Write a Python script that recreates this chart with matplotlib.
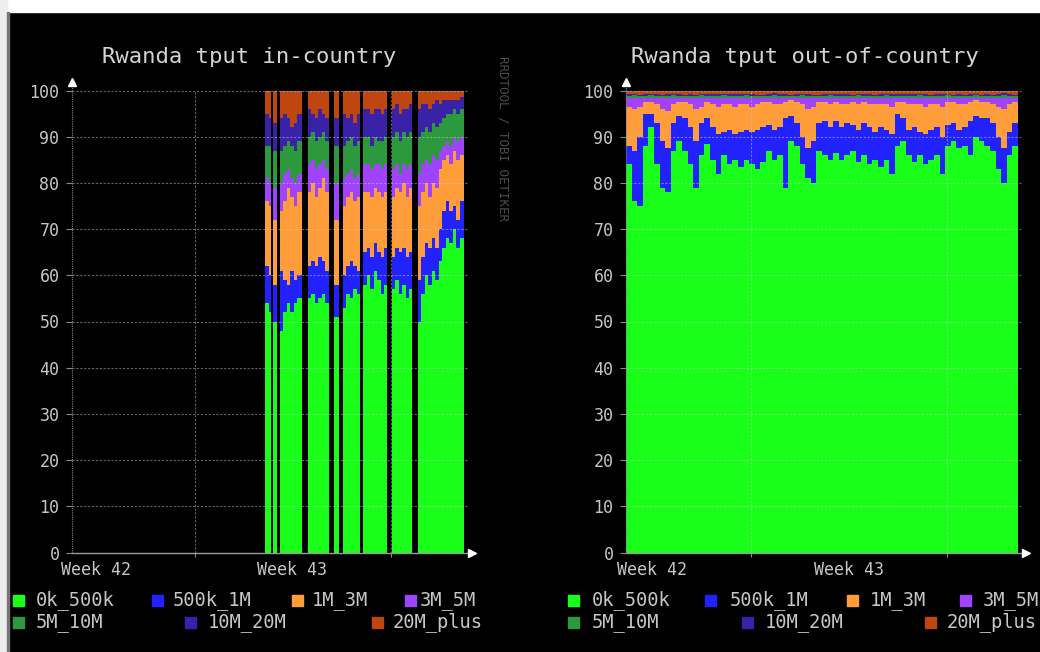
import numpy as np
import matplotlib
matplotlib.use('Agg')
import matplotlib.pyplot as plt
from matplotlib.patches import Rectangle

nan = float('nan')

# ---------------- data ----------------
series_names = ['0k_500k', '500k_1M', '1M_3M', '3M_5M', '5M_10M', '10M_20M', '20M_plus']
series_colors = ['#19ff19', '#2222ff', '#ff9d3a', '#a043ff', '#2c9a3c', '#3a22a8', '#c0460f']

week_labels = ['Week 42', 'Week 43']
y_ticks = [0, 10, 20, 30, 40, 50, 60, 70, 80, 90, 100]

# in-country: sample start times (days), NaN = no data
in_times = [6.89, 7.02, 7.12, 7.18, 7.32, 7.43, 7.55, 7.68, 7.80, 7.93, 8.05, 8.21, 8.43, 8.55,
            8.68, 8.80, 8.93, 9.05, 9.18, 9.36, 9.54, 9.68, 9.80, 9.93, 10.05, 10.17, 10.29,
            10.39, 10.52, 10.64, 10.77, 10.89, 11.02, 11.14, 11.25, 11.43, 11.55, 11.68, 11.80,
            11.93, 12.05, 12.14, 12.36, 12.48, 12.61, 12.73, 12.86, 12.98, 13.11, 13.23, 13.36,
            13.48, 13.61, 13.73, 13.86]
in_end = 14.0
in_0k_500k = [54, 52, nan, 50, nan, 48, 52, 54, 52, 54, 55, nan, 55, 56, 54, 55, 56, 54, nan, 51,
              nan, 53, 56, 55, 57, 56, nan, 58, 60, 57, 61, 59, 56, 58, nan, 57, 59, 56, 58, 55,
              57, nan, 50, 56, 60, 58, 61, 59, 63, 66, 68, 67, 70, 66, 68]
in_500k_1M = [8, 8, nan, 8, nan, 13, 7, 4, 9, 5, 5, nan, 7, 7, 8, 9, 7, 7, nan, 7,
              nan, 7, 6, 8, 5, 5, nan, 7, 6, 7, 6, 6, 8, 8, nan, 7, 7, 9, 8, 9,
              8, nan, 9, 8, 7, 8, 7, 7, 7, 8, 8, 7, 5, 6, 8]
in_1M_3M = [14, 15, nan, 14, nan, 13, 17, 21, 16, 16, 18, nan, 16, 17, 15, 15, 18, 17, nan, 14,
            nan, 15, 15, 15, 14, 16, nan, 13, 12, 13, 12, 13, 13, 12, nan, 13, 13, 13, 14, 13,
            14, nan, 16, 14, 13, 11, 12, 13, 13, 11, 10, 10, 12, 13, 10]
in_3M_5M = [5, 5, nan, 7, nan, 6, 6, 4, 4, 5, 4, nan, 6, 5, 6, 5, 4, 5, nan, 8,
            nan, 6, 5, 5, 5, 5, nan, 6, 6, 6, 5, 6, 6, 6, nan, 6, 5, 4, 4, 6,
            5, nan, 7, 6, 5, 7, 6, 6, 4, 3, 3, 4, 3, 4, 4]
in_5M_10M = [7, 8, nan, 8, nan, 7, 6, 6, 7, 7, 7, nan, 6, 6, 6, 6, 6, 6, nan, 8,
             nan, 7, 7, 7, 7, 7, nan, 6, 6, 5, 6, 5, 6, 6, nan, 7, 7, 7, 7, 7,
             7, nan, 8, 7, 7, 7, 7, 7, 6, 6, 6, 7, 6, 6, 6]
in_10M_20M = [7, 6, nan, 6, nan, 7, 7, 5, 4, 6, 6, nan, 6, 4, 5, 6, 4, 5, nan, 6,
              nan, 7, 5, 5, 5, 6, nan, 6, 6, 7, 6, 7, 6, 6, nan, 6, 6, 6, 5, 6,
              6, nan, 6, 6, 5, 5, 4, 6, 4, 4, 3, 3, 2, 3, 2.5]
in_20M_plus = [5, 6, nan, 7, nan, 6, 5, 6, 8, 7, 5, nan, 4, 5, 6, 4, 5, 6, nan, 6,
               nan, 5, 6, 5, 7, 5, nan, 4, 4, 5, 4, 4, 5, 4, nan, 4, 3, 5, 4, 4,
               3, nan, 4, 3, 3, 4, 3, 2, 3, 2, 2, 2, 2, 2, 1.5]

# out-of-country: one sample every 0.2 day over 14 days
out_step = 0.2
out_0k_500k = [84, 76, 75, 88, 92, 84, 79, 78, 87, 89, 87, 84, 79, 86, 88.5, 85, 82, 86, 84, 85,
               83.5, 85, 84, 83, 84.5, 87, 85, 86, 79, 89, 88, 84, 81, 80, 87, 86, 85, 86.5, 85, 86,
               87, 84.5, 86, 84, 85, 83.5, 85, 82, 88, 89, 86, 84.5, 86, 84, 85, 86, 82, 88, 89, 87.5,
               88, 86, 90, 89, 88, 87, 83, 80, 86, 88]
out_500k_1M = [4, 11, 15, 7, 3, 9, 10, 9.5, 6, 5.5, 7, 8, 10, 7, 5.5, 7, 8.5, 5, 7.5, 5.5,
               7.5, 6.5, 7, 8.5, 7.5, 5.5, 6.5, 6, 15, 5.5, 5, 6, 6.5, 9, 6, 7.5, 7, 7, 7, 7,
               5.5, 7, 7, 8, 6, 8.5, 6.5, 8.5, 7, 5, 5.5, 7.5, 5, 6.5, 6.5, 6, 8, 4.5, 4, 4,
               4, 7.5, 4.5, 5, 6, 6, 7, 7.5, 5, 5]
out_1M_3M = [8.5, 9, 6.5, 2.5, 2.5, 4, 7, 8, 4, 3, 3.5, 5, 7, 3.5, 3.5, 5, 6, 6, 5.5, 6,
             6, 5.5, 5.5, 5.5, 5.5, 5, 5.5, 5, 3.5, 3.5, 4.5, 7, 8.5, 7.5, 4.5, 4, 5, 4, 5, 4,
             5, 5.5, 4.5, 5, 6, 5, 5.5, 6, 2.5, 3.5, 5.5, 5, 6, 6, 5.5, 5, 6.5, 5, 4.5, 5.5,
             5, 4, 3.5, 3.5, 3.5, 4, 6.5, 8.5, 6, 4.5]
out_3M_5M = [1.8, 2.3, 1.8, 0.8, 0.8, 1.3, 2.3, 2.8, 1.3, 0.8, 0.8, 1.3, 2.3, 1.8, 0.8, 1.3, 1.8, 1.3, 1.3, 1.8,
             1.3, 1.3, 1.8, 1.3, 0.8, 0.8, 1.3, 1.3, 0.8, 0.3, 0.8, 1.3, 2.3, 1.8, 0.8, 0.8, 1.3, 0.8, 1.3, 1.3,
             0.8, 1.3, 0.8, 1.3, 1.3, 1.3, 1.3, 1.8, 0.8, 0.8, 1.3, 1.3, 1.3, 1.8, 1.3, 1.3, 1.8, 0.8, 0.8, 1.3,
             1.3, 0.8, 0.3, 0.8, 0.8, 1.3, 1.8, 2.3, 1.3, 0.8]
out_5M_10M = [0.6, 0.7, 0.5, 0.6, 0.7, 0.6, 0.5, 0.6, 0.7, 0.6, 0.5, 0.6, 0.6, 0.7, 0.6, 0.5, 0.6, 0.7, 0.6, 0.6,
              0.5, 0.7, 0.6, 0.6, 0.5, 0.6, 0.7, 0.6, 0.6, 0.5, 0.6, 0.7, 0.6, 0.5, 0.6, 0.6, 0.7, 0.6, 0.5, 0.6,
              0.6, 0.7, 0.6, 0.6, 0.5, 0.6, 0.7, 0.6, 0.6, 0.5, 0.6, 0.6, 0.7, 0.6, 0.5, 0.6, 0.6, 0.7, 0.6, 0.6,
              0.5, 0.6, 0.7, 0.6, 0.6, 0.5, 0.6, 0.7, 0.6, 0.6]
out_10M_20M = [0.3, 0.2, 0.3, 0.4, 0.3, 0.3, 0.2, 0.3, 0.3, 0.4, 0.3, 0.3, 0.2, 0.3, 0.3, 0.4, 0.3, 0.2, 0.3, 0.3,
               0.4, 0.3, 0.3, 0.2, 0.3, 0.3, 0.4, 0.3, 0.3, 0.2, 0.3, 0.3, 0.4, 0.3, 0.2, 0.3, 0.3, 0.3, 0.4, 0.3,
               0.2, 0.3, 0.3, 0.4, 0.3, 0.3, 0.2, 0.3, 0.3, 0.4, 0.3, 0.3, 0.2, 0.3, 0.3, 0.4, 0.3, 0.3, 0.2, 0.3,
               0.3, 0.4, 0.3, 0.2, 0.3, 0.3, 0.3, 0.4, 0.3, 0.2]
out_20M_plus = [0.8, 0.8, 0.9, 0.7, 0.8, 0.8, 0.9, 0.8, 0.7, 0.8, 0.9, 0.8, 0.8, 0.7, 0.8, 0.8, 0.9, 0.8, 0.8, 0.7,
                0.8, 0.9, 0.8, 0.8, 0.7, 0.8, 0.8, 0.9, 0.8, 0.8, 0.7, 0.8, 0.9, 0.8, 0.8, 0.8, 0.7, 0.8, 0.9, 0.8,
                0.8, 0.7, 0.8, 0.8, 0.9, 0.8, 0.8, 0.7, 0.8, 0.8, 0.9, 0.8, 0.8, 0.7, 0.8, 0.8, 0.9, 0.8, 0.8, 0.7,
                0.8, 0.8, 0.9, 0.8, 0.8, 0.7, 0.8, 0.8, 0.9, 0.8]

# ---------------- figure ----------------
W, H = 1040, 652
plt.rcParams['font.family'] = ['DejaVu Sans Mono']
fig = plt.figure(figsize=(W / 100, H / 100), dpi=100, facecolor='black')

TXT = '#c6c6c6'


def px_rect(x, y, w, h, **kw):
    fig.add_artist(Rectangle((x / W, 1 - (y + h) / H), w / W, h / H,
                             transform=fig.transFigure, **kw))


# white frame bits of the screenshot
px_rect(0, 0, W, 12, color='white', zorder=20)
px_rect(0, 0, 7, H, color='#eeeeee', zorder=20)
px_rect(7, 12, 1.5, H - 12, color='#777777', zorder=20)


def draw_stack(ax, t, t_end, layers):
    L = np.array(layers, dtype=float)
    tt = np.append(np.array(t, dtype=float), t_end)
    tops = np.cumsum(L, axis=0)
    valid = ~np.isnan(L).any(axis=0)
    n = L.shape[1]
    i = 0
    while i < n:
        if not valid[i]:
            i += 1
            continue
        j = i
        while j + 1 < n and valid[j + 1]:
            j += 1
        xs = tt[i:j + 2]
        for k in range(L.shape[0] - 1, -1, -1):
            ys = np.append(tops[k, i:j + 1], tops[k, j])
            ax.fill_between(xs, 0, ys, step='post', color=series_colors[k],
                            lw=0, zorder=2)
        i = j + 1


def setup(ax, grid_x, label_x):
    ax.set_facecolor('black')
    ax.set_xlim(0, 14)
    ax.set_ylim(0, 100)
    for s in ax.spines.values():
        s.set_visible(False)
    ax.set_yticks(y_ticks)
    ax.set_yticklabels([str(v) for v in y_ticks])
    ax.tick_params(axis='y', colors='#8a8a8a', labelcolor=TXT, labelsize=12,
                   length=4, width=0.8, pad=5)
    ax.set_xticks(grid_x)
    ax.set_xticklabels([])
    ax.tick_params(axis='x', colors='#8a8a8a', length=3, width=0.8)
    for yv in y_ticks[1:]:
        ax.plot([0, 14.15], [yv, yv], color='#c8c8c8', lw=0.8, ls=(0, (2, 1.5)),
                alpha=0.5, zorder=3, clip_on=False)
    for xv in grid_x:
        ax.plot([xv, xv], [0, 100], color='#c8c8c8', lw=0.8, ls=(0, (2, 1.5)),
                alpha=0.5, zorder=3, clip_on=False)
    ax.plot([0, 14.2], [0, 0], color='#9a9a9a', lw=1.0, zorder=4, clip_on=False)
    ax.plot([0, 0], [0, 101.5], color='#808080', lw=0.8, ls=(0, (1, 1)), zorder=4,
            clip_on=False)
    ax.plot([0], [101.9], marker='^', color='white', ms=6, zorder=5, clip_on=False)
    ax.plot([14.27], [0], marker='>', color='white', ms=6, zorder=5, clip_on=False)
    for lx, lab in zip(label_x, week_labels):
        ax.text(lx, -0.038, lab, transform=ax.get_xaxis_transform(), ha='center',
                va='center', fontsize=12, color=TXT)


ax_bottom = (H - 552.5) / H
ax_height = 462 / H
axL = fig.add_axes([72 / W, ax_bottom, 392 / W, ax_height])
axR = fig.add_axes([626 / W, ax_bottom, 392 / W, ax_height])

in_layers = [in_0k_500k, in_500k_1M, in_1M_3M, in_3M_5M, in_5M_10M, in_10M_20M, in_20M_plus]
out_layers = [out_0k_500k, out_500k_1M, out_1M_3M, out_3M_5M, out_5M_10M, out_10M_20M, out_20M_plus]
out_times = np.arange(len(out_0k_500k)) * out_step

draw_stack(axL, in_times, in_end, in_layers)
draw_stack(axR, out_times, out_times[-1] + out_step, out_layers)

setup(axL, [4.39, 11.39], [0.86, 7.86])
setup(axR, [4.46, 11.46], [0.93, 7.96])

# titles
fig.text(249 / W, 1 - 57 / H, 'Rwanda tput in-country', ha='center', va='center',
         fontsize=16, color='#d4d4d4')
fig.text(805 / W, 1 - 57 / H, 'Rwanda tput out-of-country', ha='center', va='center',
         fontsize=16, color='#d4d4d4')

# watermark
fig.text(503 / W, 1 - 138 / H, 'RRDTOOL / TOBI OETIKER', rotation=270, ha='center',
         va='center', fontsize=9, color='#4c4c4c')

# legends
legend_rows = [[0, 1, 2, 3], [4, 5, 6]]
row_y = [600.5, 622.5]
left_sq = [[13, 152, 292, 405], [13, 185, 372]]
left_tx = [[36, 173, 312, 420], [36, 208, 393]]
right_sq = [[568, 705, 847, 960], [568, 742, 925]]
right_tx = [[592, 730, 870, 983], [592, 765, 947]]
for sqs, txs in [(left_sq, left_tx), (right_sq, right_tx)]:
    for r, idxs in enumerate(legend_rows):
        for c, k in enumerate(idxs):
            px_rect(sqs[r][c], row_y[r] - 5.5, 11, 11, color=series_colors[k], zorder=10)
            fig.text(txs[r][c] / W, 1 - row_y[r] / H, series_names[k], ha='left',
                     va='center', fontsize=13.5, color=TXT)

fig.savefig('out.png', dpi=100, facecolor='black')
